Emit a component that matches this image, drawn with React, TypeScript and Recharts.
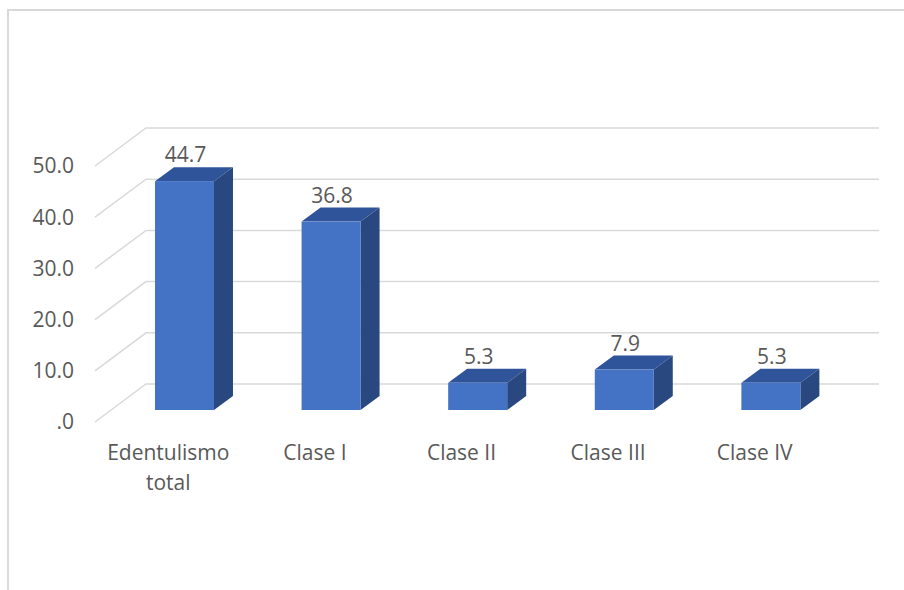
import React from 'react';
import { BarChart, Bar, XAxis, YAxis, CartesianGrid, LabelList } from 'recharts';

const categories = ['Edentulismo total', 'Clase I', 'Clase II', 'Clase III', 'Clase IV'];
const values = [44.7, 36.8, 5.3, 7.9, 5.3];
const yTicks = [0, 10, 20, 30, 40, 50];

const data = categories.map((name, i) => ({ name, value: values[i] }));

// fake 3D depth (Excel style)
const DEPTH_X = 19;
const DEPTH_Y = 14;
// floor front edge / back wall offsets from the bars' front plane
const FRONT_DX = -16;
const FRONT_DY = 12;
const BACK_DX = 35;
const BACK_DY = -26;

const TEXT = '#595959';
const FONT = '"Open Sans", "Noto Sans", sans-serif';
const FS = 21;

const Bar3D = (props: any) => {
  const { x, y, width, height } = props;
  if (height == null || width == null) return null;
  const r = x + width;
  const b = y + height;
  return (
    <g>
      <path
        d={`M${x},${y} L${x + DEPTH_X},${y - DEPTH_Y} L${r + DEPTH_X},${y - DEPTH_Y} L${r},${y} Z`}
        fill="#30549a"
      />
      <path
        d={`M${r},${y} L${r + DEPTH_X},${y - DEPTH_Y} L${r + DEPTH_X},${b - DEPTH_Y} L${r},${b} Z`}
        fill="#2a4880"
      />
      <rect x={x} y={y} width={width} height={height} fill="#4472c4" />
    </g>
  );
};

const gridLine = (props: any) => {
  const { x1, x2, y1, key } = props;
  return (
    <path
      key={key}
      d={`M${x1 + FRONT_DX},${y1 + FRONT_DY} L${x1 + BACK_DX},${y1 + BACK_DY} L${x2 + BACK_DX},${y1 + BACK_DY}`}
      stroke="#d9d9d9"
      strokeWidth={1.5}
      fill="none"
    />
  );
};

const YTick = (props: any) => {
  const { x, y, payload } = props;
  const v = payload.value;
  const label = v === 0 ? '.0' : v.toFixed(1);
  return (
    <text x={x - 29} y={y + FRONT_DY} dy="0.35em" textAnchor="end" fill={TEXT} fontSize={FS} fontFamily={FONT}>
      {label}
    </text>
  );
};

const XTick = (props: any) => {
  const { x, y, payload } = props;
  const words: string[] = payload.value.length > 10 ? payload.value.split(' ') : [payload.value];
  return (
    <text x={x + FRONT_DX} y={y + 42} textAnchor="middle" fill={TEXT} fontSize={FS} fontFamily={FONT}>
      {words.map((w, i) => (
        <tspan key={i} x={x + FRONT_DX} dy={i === 0 ? 0 : 30}>
          {w}
        </tspan>
      ))}
    </text>
  );
};

const ValueLabel = (props: any) => {
  const { x, y, width, value } = props;
  return (
    <text x={x + width / 2 + 1} y={y - DEPTH_Y - 5} textAnchor="middle" fill={TEXT} fontSize={FS} fontFamily={FONT}>
      {Number(value).toFixed(1)}
    </text>
  );
};

export default function App() {
  return (
    <div style={{ position: 'absolute', left: 0, top: 0, width: 904, height: 590, background: '#fff', overflow: 'hidden' }}>
      <div
        style={{
          position: 'absolute',
          left: 7,
          top: 9,
          width: 1000,
          height: 700,
          border: '2px solid #d9d9d9',
        }}
      />
      <div style={{ position: 'absolute', left: 0, top: 0 }}>
        <BarChart
          width={904}
          height={590}
          data={data}
          margin={{ top: 154, right: 60, bottom: 150, left: 11 }}
          barCategoryGap="30%"
        >
          <CartesianGrid vertical={false} horizontal={gridLine} />
          <XAxis dataKey="name" axisLine={false} tickLine={false} tick={<XTick />} height={30} interval={0} />
          <YAxis
            domain={[0, 50]}
            ticks={yTicks}
            axisLine={false}
            tickLine={false}
            tick={<YTick />}
            width={100}
          />
          <Bar dataKey="value" shape={<Bar3D />} isAnimationActive={false}>
            <LabelList dataKey="value" content={<ValueLabel />} />
          </Bar>
        </BarChart>
      </div>
    </div>
  );
}
